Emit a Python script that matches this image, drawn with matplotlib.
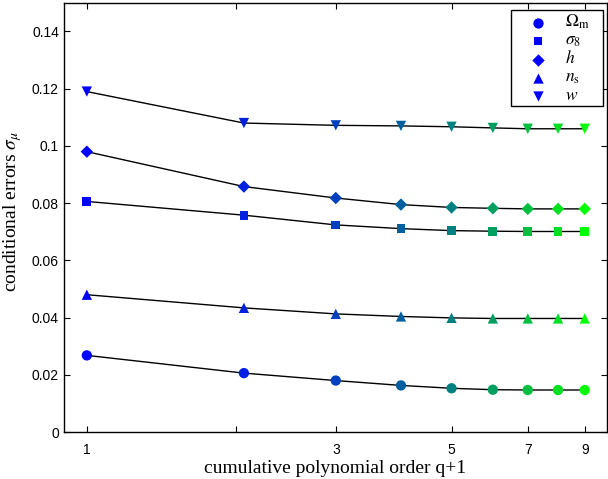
import numpy as np
import matplotlib
matplotlib.use("Agg")
import matplotlib.pyplot as plt
from matplotlib.ticker import FixedLocator, FixedFormatter, NullLocator

plt.rcParams['mathtext.fontset'] = 'stix'

orders = [1, 2, 3, 4, 5, 6, 7, 8, 9]
omega_m = [0.0268, 0.0206, 0.0180, 0.0163, 0.0153, 0.0148, 0.0147, 0.0147, 0.0147]
sigma_8 = [0.0806, 0.0758, 0.0724, 0.0711, 0.0704, 0.0702, 0.0701, 0.0701, 0.0701]
h_vals = [0.0980, 0.0858, 0.0818, 0.0795, 0.0785, 0.0782, 0.0780, 0.0780, 0.0780]
n_s = [0.0480, 0.0434, 0.0413, 0.0404, 0.0399, 0.0397, 0.0397, 0.0397, 0.0397]
w_vals = [0.1190, 0.1080, 0.1072, 0.1070, 0.1067, 0.1063, 0.1060, 0.1060, 0.1060]

labels = [r'$\Omega_{\rm m}$', r'$\sigma_8$', r'$h$', r'$n_{\rm s}$', r'$w$']
markers = ['o', 's', 'D', '^', 'v']
series = [omega_m, sigma_8, h_vals, n_s, w_vals]
sizes = [55, 40, 40, 55, 55]

xticks = [1, 1.93, 3, 5, 7, 9]
xticklabels = ['1', '', '3', '5', '7', '9']
yticks = [0, 0.02, 0.04, 0.06, 0.08, 0.1, 0.12, 0.14]
yticklabels = ['0', '0.02', '0.04', '0.06', '0.08', '0.1', '0.12', '0.14']

fig = plt.figure(figsize=(6.08, 4.79), dpi=100)
ax = fig.add_axes([0.105, 0.098, 0.893, 0.896])

n = len(orders)
cols = [(0.0, i / (n - 1), 1 - i / (n - 1)) for i in range(n)]

for vals, m, lab, s in zip(series, markers, labels, sizes):
    ax.plot(orders, vals, color='black', lw=1.0, zorder=2)
    ax.scatter(orders, vals, c=cols, marker=m, s=s, linewidths=0, zorder=3)
    ax.scatter([], [], color='blue', marker=m, s=s, linewidths=0, label=lab)

ax.set_xscale('log')
ax.set_xlim(0.9035, 9.92)
ax.set_ylim(0, 0.15)
ax.xaxis.set_major_locator(FixedLocator(xticks))
ax.xaxis.set_major_formatter(FixedFormatter(xticklabels))
ax.xaxis.set_minor_locator(NullLocator())
ax.set_yticks(yticks)
ax.set_yticklabels(yticklabels)
ax.tick_params(direction='in', top=True, right=True, length=4, width=0.8,
               labelsize=10, pad=3.5)
ax.tick_params(axis='x', pad=8)
for lab in ax.get_xticklabels() + ax.get_yticklabels():
    lab.set_family('Liberation Sans')
for sp in ax.spines.values():
    sp.set_linewidth(1.0)

ax.set_xlabel('cumulative polynomial order q+1', family='Liberation Serif', fontsize=14, labelpad=2)
ax.set_ylabel(r'conditional errors $\sigma_\mu$', family='Liberation Serif', fontsize=14)
ax.yaxis.set_label_coords(-0.074, 0.515)

leg = ax.legend(loc='upper left', bbox_to_anchor=(0.823, 0.5, 0.1694, 0.4837),
                mode='expand', fontsize=12.5,
                frameon=True, fancybox=False,
                edgecolor='black', framealpha=1, borderpad=0.15, labelspacing=0.0,
                handlelength=2.9, handletextpad=0.05, handleheight=0.5,
                borderaxespad=0.0, markerfirst=True)
leg.get_frame().set_linewidth(1.0)

fig.savefig('out.png', dpi=100)
